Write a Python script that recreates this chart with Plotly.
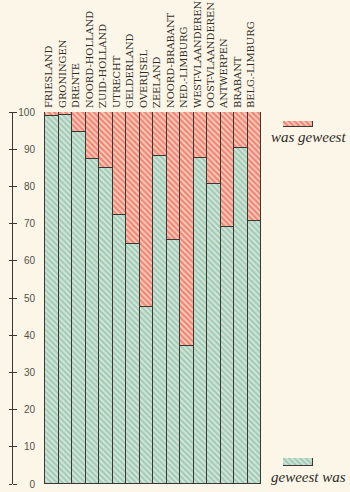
import plotly.graph_objects as go

# Provinces (Netherlands and Flanders)
provinces = [
    "FRIESLAND", "GRONINGEN", "DRENTE", "NOORD-HOLLAND", "ZUID-HOLLAND",
    "UTRECHT", "GELDERLAND", "OVERIJSEL", "ZEELAND", "NOORD-BRABANT",
    "NED.-LIMBURG", "WEST-VLAANDEREN", "OOST-VLAANDEREN", "ANTWERPEN",
    "BRABANT", "BELG.-LIMBURG",
]
# share (%) "geweest was"
geweest_was = [99.0, 99.3, 94.6, 87.5, 84.9, 72.4, 64.6, 47.7,
               88.2, 65.5, 37.2, 87.6, 80.6, 69.1, 90.4, 70.7]
# share (%) "was geweest" = remainder to 100
was_geweest = [round(100 - v, 1) for v in geweest_was]

y_ticks = [0, 10, 20, 30, 40, 50, 60, 70, 80, 90, 100]

BG = "#fbf6e7"
GREEN_FG, GREEN_BG = "#6fae90", "#d6e8dc"
RED_FG, RED_BG = "#ea3a2a", "#f7d3c2"
EDGE = "#3b3834"
SERIF = "Liberation Serif, DejaVu Serif, serif"
LABEL_FONT = "DejaVu Serif, serif"

W, H = 350, 492
L, R, T, B = 12, 4, 112, 8
plot_w = W - L - R
plot_h = H - T - B


def px_x(x):
    return (x - L) / plot_w


def px_y(y):
    return (H - B - y) / plot_h


fig = go.Figure()

fig.add_bar(
    x=provinces, y=geweest_was, name="geweest was",
    marker=dict(color=GREEN_BG, line=dict(color=EDGE, width=1),
                pattern=dict(shape="\\", fgcolor=GREEN_FG, bgcolor=GREEN_BG,
                             size=4, solidity=0.55)),
    hoverinfo="x+y",
)
fig.add_bar(
    x=provinces, y=was_geweest, name="was geweest",
    marker=dict(color=RED_BG, line=dict(color=EDGE, width=1),
                pattern=dict(shape="\\", fgcolor=RED_FG, bgcolor=RED_BG,
                             size=4, solidity=0.6)),
    hoverinfo="x+y",
)

# legend swatches on their own small axes
for i, (fg, bgc, name) in enumerate([(RED_FG, RED_BG, "was geweest"),
                                      (GREEN_FG, GREEN_BG, "geweest was")]):
    ax = i + 3
    fig.add_bar(
        x=[name], y=[1], xaxis=f"x{ax}", yaxis=f"y{ax}", width=1,
        marker=dict(color=bgc, line=dict(color=EDGE, width=1),
                    pattern=dict(shape="\\", fgcolor=fg, bgcolor=bgc,
                                 size=4, solidity=0.6)),
        hoverinfo="skip", showlegend=False,
    )

sw_x = [px_x(283), px_x(313)]
fig.update_layout(
    xaxis3=dict(domain=sw_x, anchor="y3", visible=False, fixedrange=True),
    yaxis3=dict(domain=[px_y(127), px_y(121)], anchor="x3", range=[0, 1], visible=False),
    xaxis4=dict(domain=sw_x, anchor="y4", visible=False, fixedrange=True),
    yaxis4=dict(domain=[px_y(466), px_y(458)], anchor="x4", range=[0, 1], visible=False),
)

fig.update_layout(
    width=W, height=H,
    margin=dict(l=L, r=R, t=T, b=B),
    paper_bgcolor=BG, plot_bgcolor=BG,
    barmode="stack", bargap=0,
    showlegend=False,
    font=dict(family=SERIF, color="#2f2c28"),
    xaxis=dict(
        domain=[px_x(37), px_x(261)], side="top", tickangle=-90,
        tickfont=dict(size=9.9, family=LABEL_FONT, color="#2f2c28"),
        ticks="", showline=False, showgrid=False, ticklabelshift=-3,
        ticklabelstandoff=3, automargin=False,
    ),
    # value labels, right-aligned just right of the drawn scale line
    yaxis=dict(
        range=[0, 100], tickvals=y_ticks, anchor="free", position=px_x(35),
        side="left", showline=False, showgrid=False, ticks="", zeroline=False,
        automargin=False,
        tickfont=dict(size=10, family="Liberation Sans, Arial, sans-serif", color="#55514a"),
    ),
    # scale line with ticks crossing it
    yaxis2=dict(
        range=[0, 100], tickvals=y_ticks, overlaying="y", anchor="free", position=0,
        side="left", showline=True, linecolor=EDGE, linewidth=1,
        ticks="outside", ticklen=3, tickcolor=EDGE, showticklabels=False,
        showgrid=False, zeroline=False, automargin=False,
    ),
    yaxis5=dict(
        range=[0, 100], tickvals=y_ticks, overlaying="y", anchor="free", position=0,
        side="right", showline=False,
        ticks="outside", ticklen=4, tickcolor=EDGE, showticklabels=False,
        showgrid=False, zeroline=False, automargin=False,
    ),
)

# invisible helpers so the overlay scale axes are drawn
fig.add_scatter(x=[provinces[0]], y=[0], yaxis="y2", mode="markers",
                marker=dict(opacity=0), hoverinfo="skip", showlegend=False)
fig.add_scatter(x=[provinces[0]], y=[0], yaxis="y5", mode="markers",
                marker=dict(opacity=0), hoverinfo="skip", showlegend=False)

# legend captions
for text, ypx in [("was geweest", 137), ("geweest was", 477)]:
    fig.add_annotation(
        text=f"<i>{text}</i>", xref="paper", yref="paper",
        x=px_x(308), y=px_y(ypx), showarrow=False, xanchor="center", yanchor="middle",
        font=dict(size=15, family=SERIF, color="#2f2c28"),
    )

fig.write_html("out.html")
